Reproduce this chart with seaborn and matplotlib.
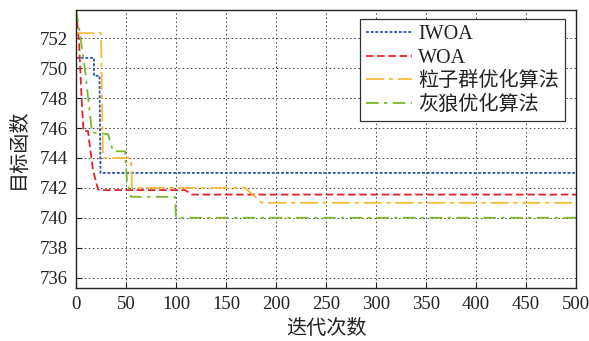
import matplotlib
matplotlib.use("Agg")
import matplotlib.pyplot as plt
import seaborn as sns
import pandas as pd

# Convergence curves: (iteration, objective value) breakpoints for each optimizer
iwoa_x = [0, 18, 18, 23.5, 24.5, 500]
iwoa_y = [750.7, 750.7, 749.5, 749.5, 743.0, 743.0]

woa_x = [0, 3, 5.5, 7.5, 12, 14, 17, 22, 24, 109, 116, 500]
woa_y = [753.9, 751.8, 748.1, 745.8, 745.8, 744.7, 743.2, 741.9, 741.85, 741.85, 741.55, 741.55]

pso_x = [0, 25, 27, 55, 56, 169, 186, 500]
pso_y = [752.35, 752.35, 744.0, 744.0, 742.0, 742.0, 741.0, 741.0]

gwo_x = [0, 4, 9, 16, 32, 37, 49, 51, 55, 99, 100, 500]
gwo_y = [753.9, 752.3, 749.9, 745.7, 745.6, 744.45, 744.45, 742.5, 741.4, 741.4, 740.0, 740.0]

series_names = ["IWOA", "WOA", "粒子群优化算法", "灰狼优化算法"]
x_ticks = [0, 50, 100, 150, 200, 250, 300, 350, 400, 450, 500]
y_ticks = [736, 738, 740, 742, 744, 746, 748, 750, 752]

sns.set_style("white")
fonts = ["Liberation Serif", "Noto Sans CJK SC", "DejaVu Sans"]
plt.rcParams["font.family"] = fonts
plt.rcParams["axes.unicode_minus"] = False

fig = plt.figure(figsize=(5.89, 3.41), dpi=100)
ax = fig.add_axes([76 / 589, 1 - 288 / 341, 500 / 589, 278 / 341])

styles = [
    dict(color="#2a55a6", dashes=(1.6, 1.0)),
    dict(color="#e4222b", dashes=(4.2, 2.0)),
    dict(color="#f7bb3a", dashes=(10.0, 2.6, 2.4, 2.6)),
    dict(color="#7cb82a", dashes=(7.0, 3.0, 1.8, 3.0)),
]
data = [(iwoa_x, iwoa_y), (woa_x, woa_y), (pso_x, pso_y), (gwo_x, gwo_y)]

for name, (xs, ys), st in zip(series_names, data, styles):
    df = pd.DataFrame({"iter": xs, "val": ys})
    sns.lineplot(data=df, x="iter", y="val", ax=ax, estimator=None, sort=False,
                 color=st["color"], linewidth=1.3, label=name)
    ax.lines[-1].set_dashes(st["dashes"])

ax.set_xlim(0, 500)
ax.set_ylim(735.3, 753.9)
ax.set_xticks(x_ticks)
ax.set_yticks(y_ticks)
ax.grid(True, color="#444444", linestyle=(0, (1.6, 2.6)), linewidth=0.7)
ax.tick_params(direction="in", length=4, width=0.8, labelsize=13.5,
               colors="#222222", pad=6, bottom=True, left=True)
for tl in ax.get_xticklabels() + ax.get_yticklabels():
    tl.set_color("#222222")
for sp in ax.spines.values():
    sp.set_color("#222222")
    sp.set_linewidth(1.0)

ax.set_xlabel("迭代次数", fontsize=14.5, color="#222222", labelpad=5)
ax.set_ylabel("目标函数", fontsize=14.5, color="#222222", labelpad=8)

leg = ax.legend(loc="upper right", bbox_to_anchor=(565 / 589, 1 - 19 / 341),
                bbox_transform=fig.transFigure, borderaxespad=0, fontsize=14.5,
                handlelength=2.3, handletextpad=0.3, labelspacing=0.22,
                borderpad=0.3, fancybox=False, framealpha=1,
                edgecolor="#333333")
leg.get_frame().set_linewidth(0.9)
for t in leg.get_texts():
    t.set_color("#222222")

fig.savefig("out.png", dpi=100)
